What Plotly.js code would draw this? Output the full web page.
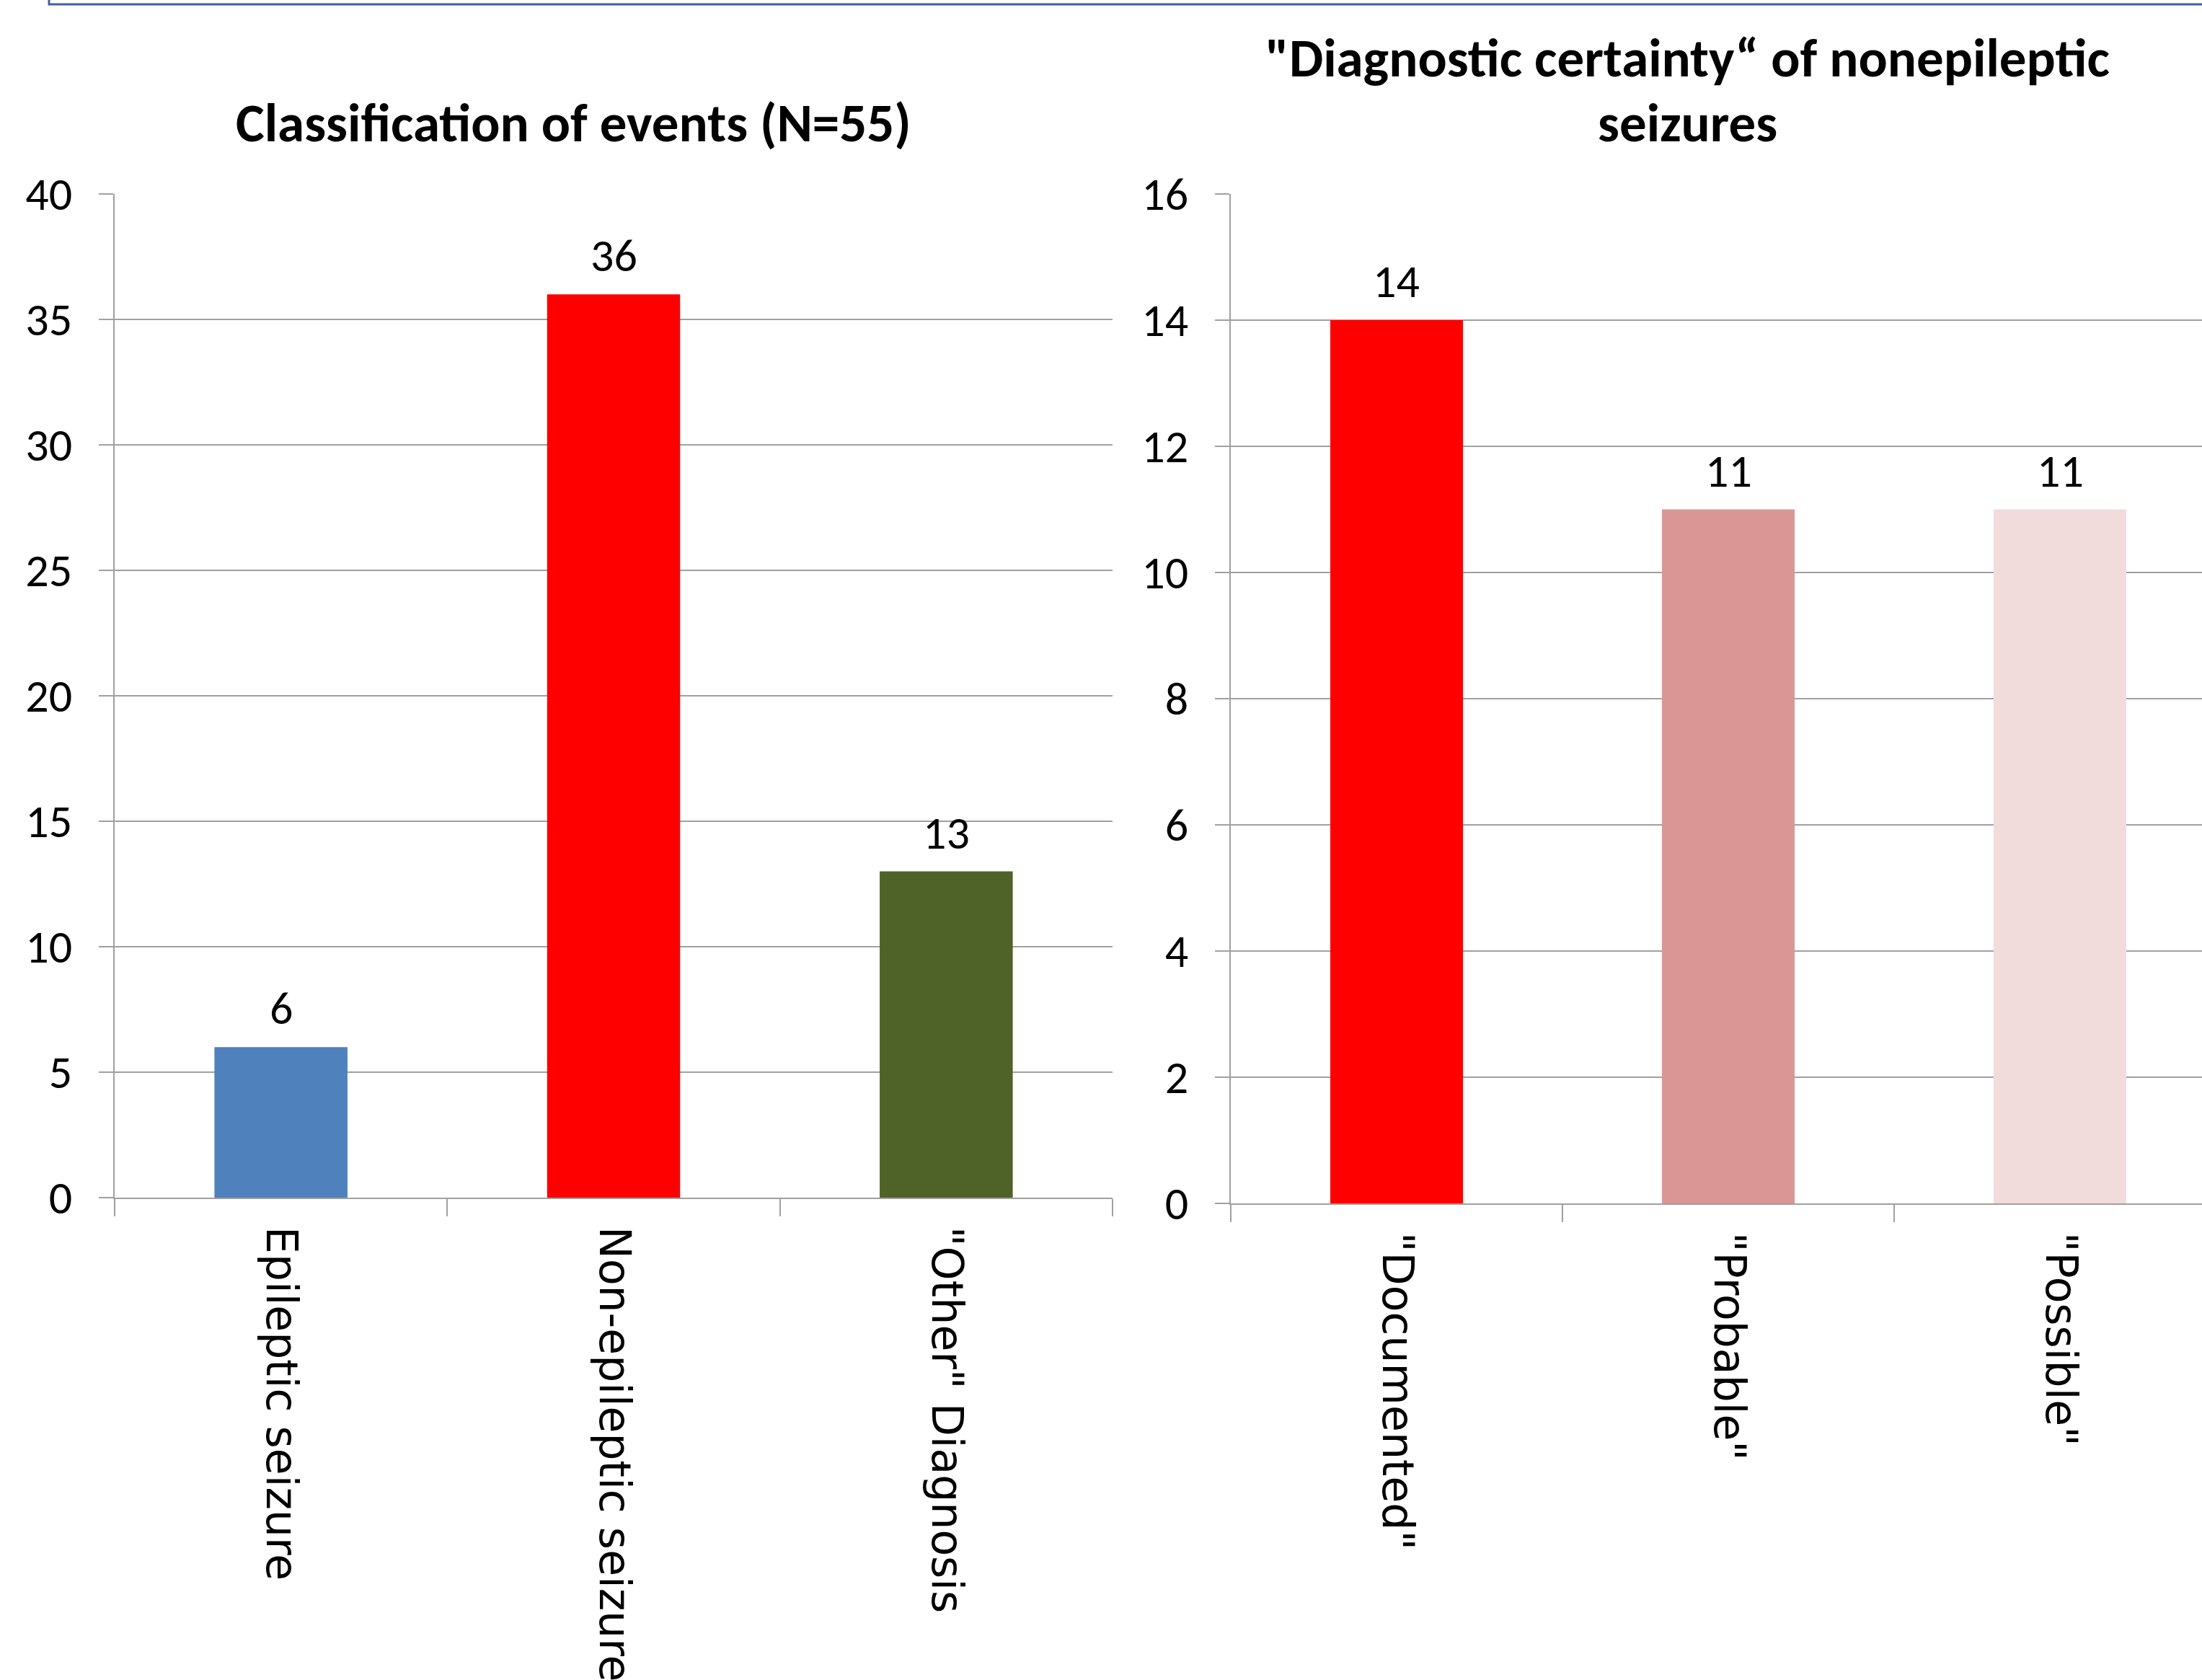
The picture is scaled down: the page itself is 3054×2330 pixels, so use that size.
<!DOCTYPE html>
<html>
<head>
<meta charset="utf-8">
<script src="https://cdn.plot.ly/plotly-3.0.1.min.js"></script>
<style>html,body{margin:0;padding:0;background:#fff;}#chart{width:3054px;height:2330px;}</style>
</head>
<body>
<div id="chart"></div>
<script>
// ---- data ----
const leftTitle = "Classification of events (N=55)";
const leftCategories = ["Epileptic seizure", "Non-epileptic seizure", "\"Other\" Diagnosis"];
const leftValues = [6, 36, 13];
const leftColors = ["#4F81BD", "#FF0000", "#4F6228"];

const rightTitleLines = ["\"Diagnostic certainty“ of nonepileptic", "seizures"];
const rightCategories = ["\"Documented\"", "\"Probable\"", "\"Possible\""];
const rightValues = [14, 11, 11];
const rightColors = ["#FF0000", "#D99694", "#F2DCDB"];

// ---- layout helpers (pixel -> paper) ----
const W = 3054, H = 2330;
const px = v => v / W;
const py = v => (H - v) / H;

const numFont = {family: "Carlito, Lato, sans-serif", size: 64, color: "#000"};
const catFont = {family: "DejaVu Sans, Verdana, sans-serif", size: 60, color: "#000"};
const titleFont = {family: "Carlito, Lato, sans-serif", size: 75, color: "#000", weight: "bold"};
const grid = "#A0A0A0";

const traces = [
  {type: "bar", x: leftCategories, y: leftValues, marker: {color: leftColors}, xaxis: "x", yaxis: "y", hoverinfo: "none"},
  {type: "bar", x: rightCategories, y: rightValues, marker: {color: rightColors}, xaxis: "x2", yaxis: "y2", hoverinfo: "none"}
];

function xAxis(domain, range) {
  return {
    domain: domain, range: range, type: "category",
    showline: true, linecolor: grid, linewidth: 2,
    ticks: "outside", tickson: "boundaries", ticklen: 24, tickwidth: 2, tickcolor: grid,
    tickangle: 90, tickfont: catFont, showgrid: false, automargin: false, fixedrange: true,
    ticklabelstandoff: 26
  };
}
function yAxis(domain, range, dtick, anchor) {
  return {
    domain: domain, range: range, dtick: dtick, tick0: 0, anchor: anchor,
    showline: true, linecolor: grid, linewidth: 2,
    showgrid: true, gridcolor: grid, gridwidth: 2, zeroline: false,
    ticks: "outside", ticklen: 20, tickwidth: 2, tickcolor: grid,
    tickfont: numFont, automargin: false, fixedrange: true, ticklabelstandoff: 24
  };
}

const annotations = [];
leftCategories.forEach((c, i) => annotations.push({
  xref: "x", yref: "y", x: c, y: leftValues[i], text: String(leftValues[i]),
  showarrow: false, yanchor: "bottom", yshift: 13, font: numFont
}));
rightCategories.forEach((c, i) => annotations.push({
  xref: "x2", yref: "y2", x: c, y: rightValues[i], text: String(rightValues[i]),
  showarrow: false, yanchor: "bottom", yshift: 13, font: numFont
}));
annotations.push({xref: "paper", yref: "paper", x: px(795), y: py(170), text: "<b>" + leftTitle + "</b>",
  showarrow: false, xanchor: "center", yanchor: "middle", font: titleFont});
rightTitleLines.forEach((t, i) => annotations.push({xref: "paper", yref: "paper", x: px(2340), y: py(80 + 90 * i),
  text: "<b>" + t + "</b>", showarrow: false, xanchor: "center", yanchor: "middle", font: titleFont}));

const layout = {
  width: W, height: H,
  margin: {l: 0, r: 0, t: 0, b: 0, pad: 0},
  paper_bgcolor: "#fff", plot_bgcolor: "rgba(0,0,0,0)",
  showlegend: false, bargap: 0.6,
  xaxis: xAxis([px(159), px(1543)], [-0.5, 2.5]),
  yaxis: yAxis([py(1661), py(269)], [0, 40], 5, "x"),
  xaxis2: xAxis([px(1707), 1], [-0.5, -0.5 + (W - 1707) / 460]),
  yaxis2: yAxis([py(1669), py(269)], [0, 16], 2, "x2"),
  annotations: annotations,
  shapes: [{
    type: "path", xref: "paper", yref: "paper",
    path: `M ${px(68)} 1 L ${px(68)} ${py(6)} L 1 ${py(6)}`,
    line: {color: "#3F6299", width: 3}
  }]
};
layout.xaxis.anchor = "y";
layout.xaxis2.anchor = "y2";

Plotly.newPlot("chart", traces, layout, {displayModeBar: false, staticPlot: true});
</script>
</body>
</html>
